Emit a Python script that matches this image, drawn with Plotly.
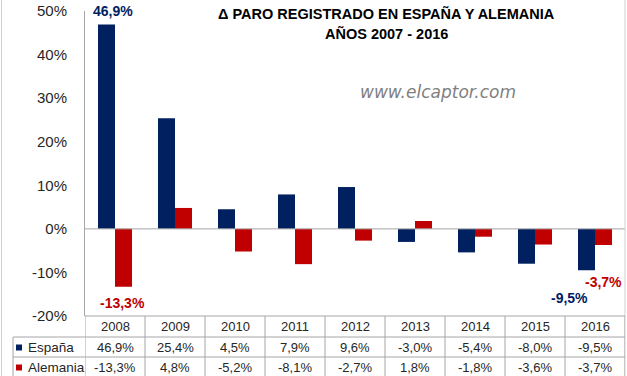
import plotly.graph_objects as go

years = ["2008", "2009", "2010", "2011", "2012", "2013", "2014", "2015", "2016"]
espana = [46.9, 25.4, 4.5, 7.9, 9.6, -3.0, -5.4, -8.0, -9.5]
alemania = [-13.3, 4.8, -5.2, -8.1, -2.7, 1.8, -1.8, -3.6, -3.7]
series_names = ["España", "Alemania"]
y_ticks = [-20, -10, 0, 10, 20, 30, 40, 50]
title_lines = ["Δ PARO REGISTRADO EN ESPAÑA Y ALEMANIA", "AÑOS 2007 - 2016"]
watermark = "www.elcaptor.com"

NAVY = "#002060"
RED = "#C00000"
GRID = "#a6a6a6"
TXT = "#262626"
FONT = "Liberation Sans"

W, H = 627, 376
L, R, T, B = 85, 625, 11, 316


def xp(px):
    return (px - L) / (R - L)


def yp(py):
    return (B - py) / (B - T)


def fmt(v):
    return f"{v:.1f}%".replace(".", ",")


fig = go.Figure()
fig.add_trace(go.Bar(x=years, y=espana, name=series_names[0], marker=dict(color=NAVY, line=dict(width=0))))
fig.add_trace(go.Bar(x=years, y=alemania, name=series_names[1], marker=dict(color=RED, line=dict(width=0))))

shapes = []
annotations = []

# zero line
shapes.append(dict(type="line", xref="paper", yref="y", x0=0, x1=1, y0=0, y1=0,
                   line=dict(color=GRID, width=1)))
# chart outer borders
shapes.append(dict(type="line", xref="paper", yref="paper", x0=xp(1.5), x1=xp(1.5), y0=yp(0), y1=yp(376),
                   line=dict(color="#d0d0d0", width=1)))
shapes.append(dict(type="line", xref="paper", yref="paper", x0=xp(625), x1=xp(625), y0=yp(0), y1=yp(376),
                   line=dict(color="#d0d0d0", width=1)))

# table lines
row_bounds = [316, 337, 357]
shapes.append(dict(type="line", xref="paper", yref="paper", x0=0, x1=1, y0=yp(316), y1=yp(316),
                   line=dict(color=GRID, width=1)))
for py in row_bounds[1:]:
    shapes.append(dict(type="line", xref="paper", yref="paper", x0=xp(13), x1=1, y0=yp(py), y1=yp(py),
                       line=dict(color=GRID, width=1)))
shapes.append(dict(type="line", xref="paper", yref="paper", x0=xp(13), x1=xp(13), y0=yp(337), y1=yp(378),
                   line=dict(color=GRID, width=1)))
for i in range(len(years) + 1):
    shapes.append(dict(type="line", xref="x", yref="paper", x0=i - 0.5, x1=i - 0.5, y0=yp(316), y1=yp(378),
                       line=dict(color=GRID, width=1)))

# table text
row_centers = [326.5, 347.5, 367.5]
for i, yr in enumerate(years):
    annotations.append(dict(x=i, xref="x", y=yp(row_centers[0]), yref="paper", text=yr, showarrow=False,
                            font=dict(family=FONT, size=13, color=TXT), xanchor="center", yanchor="middle"))
    annotations.append(dict(x=i, xref="x", y=yp(row_centers[1]), yref="paper", text=fmt(espana[i]), showarrow=False,
                            font=dict(family=FONT, size=13, color=TXT), xanchor="center", yanchor="middle"))
    annotations.append(dict(x=i, xref="x", y=yp(row_centers[2]), yref="paper", text=fmt(alemania[i]), showarrow=False,
                            font=dict(family=FONT, size=13, color=TXT), xanchor="center", yanchor="middle"))

# row headers with legend keys
for name, color, cy in [(series_names[0], NAVY, row_centers[1]), (series_names[1], RED, row_centers[2])]:
    shapes.append(dict(type="rect", xref="paper", yref="paper", x0=xp(16), x1=xp(22), y0=yp(cy + 3), y1=yp(cy - 3),
                       fillcolor=color, line=dict(width=0)))
    annotations.append(dict(x=xp(26), xref="paper", y=yp(cy), yref="paper", text=name, showarrow=False,
                            font=dict(family=FONT, size=13.5, color=TXT), xanchor="left", yanchor="middle"))

# title
annotations.append(dict(x=xp(386), xref="paper", y=yp(14), yref="paper", text="<b>" + title_lines[0] + "</b>",
                        showarrow=False, font=dict(family=FONT, size=14.5, color="#000000"),
                        xanchor="center", yanchor="middle"))
annotations.append(dict(x=xp(386), xref="paper", y=yp(34), yref="paper", text="<b>" + title_lines[1] + "</b>",
                        showarrow=False, font=dict(family=FONT, size=14.5, color="#000000"),
                        xanchor="center", yanchor="middle"))
annotations.append(dict(x=xp(438), xref="paper", y=yp(92), yref="paper", text="<i>" + watermark + "</i>",
                        showarrow=False, font=dict(family="DejaVu Sans", size=17, color="#7f7f7f"),
                        xanchor="center", yanchor="middle"))

# data labels (series index, category index, xshift, yshift)
label_specs = [(0, 0, 6.5, 13.5), (1, 0, -1, -16), (0, 8, -17.5, -27.5), (1, 8, 0, -37)]
series_vals = [espana, alemania]
series_cols = [NAVY, RED]
bar_off = [-8.5, 8.5]
for s, i, dx, dy in label_specs:
    annotations.append(dict(x=i, xref="x", y=series_vals[s][i], yref="y", text="<b>" + fmt(series_vals[s][i]) + "</b>",
                            showarrow=False, xshift=bar_off[s] + dx, yshift=dy,
                            font=dict(family=FONT, size=14, color=series_cols[s]),
                            xanchor="center", yanchor="middle"))

fig.update_layout(
    width=W, height=H,
    margin=dict(l=L, r=W - R, t=T, b=H - B),
    paper_bgcolor="white", plot_bgcolor="white",
    barmode="group", bargap=0.433, bargroupgap=0,
    showlegend=False,
    separators=",.",
    shapes=shapes, annotations=annotations,
    font=dict(family=FONT, color=TXT),
    hovermode=False,
)
fig.update_xaxes(type="category", range=[-0.5, len(years) - 0.5], showticklabels=False, showgrid=False,
                 zeroline=False, showline=False, ticks="", automargin=False)
fig.update_yaxes(range=[-20, 50], tickvals=y_ticks, ticktext=[f"{v}%" for v in y_ticks],
                 showgrid=False, zeroline=False, showline=True, linecolor=GRID, linewidth=1,
                 ticks="", ticklabelstandoff=14, tickfont=dict(family=FONT, size=15, color=TXT),
                 automargin=False)

fig.write_html("out.html", config={"displayModeBar": False},
               post_script="document.body.style.margin='0';document.body.style.overflow='hidden';")
